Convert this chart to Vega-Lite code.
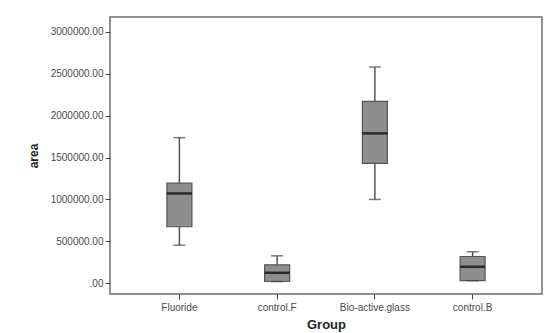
{
  "$schema": "https://vega.github.io/schema/vega-lite/v6.json",
  "autosize": {"type": "none"},
  "padding": {"left": 110, "top": 17, "right": 12, "bottom": 39},
  "width": 432,
  "height": 277,
  "background": "white",
  "config": {
    "view": {"stroke": "#6e6e6e", "strokeWidth": 1.5},
    "font": "Liberation Sans",
    "axis": {"labelFont": "Liberation Sans", "titleFont": "Liberation Sans", "labelColor": "#4a4a4a", "tickColor": "#444", "titleColor": "#222"}
  },
  "data": {
    "values": [
      {"group": "Fluoride", "min": 454000, "q1": 674000, "median": 1072000, "q3": 1195000, "max": 1738000},
      {"group": "control.F", "min": 20000, "q1": 20000, "median": 124000, "q3": 220000, "max": 327000},
      {"group": "Bio-active.glass", "min": 1000000, "q1": 1431000, "median": 1789000, "q3": 2172000, "max": 2582000},
      {"group": "control.B", "min": 30000, "q1": 30000, "median": 196000, "q3": 319000, "max": 375000}
    ]
  },
  "encoding": {
    "x": {
      "field": "group",
      "type": "nominal",
      "sort": ["Fluoride", "control.F", "Bio-active.glass", "control.B"],
      "scale": {"paddingInner": 0, "paddingOuter": 0.21},
      "axis": {"title": "Group", "titleFontSize": 13, "titleFontWeight": "bold", "titlePadding": 6, "labelAngle": 0, "labelFontSize": 10, "labelPadding": 3, "tickSize": 5, "domain": false, "grid": false}
    }
  },
  "layer": [
    {
      "mark": {"type": "rule", "color": "#555", "strokeWidth": 1.5},
      "encoding": {
        "y": {
          "field": "min", "type": "quantitative",
          "scale": {"domain": [-129000, 3179000], "nice": false, "zero": false},
          "axis": {"title": "area", "titleFontSize": 12, "titleFontWeight": "bold", "titlePadding": 10, "values": [0, 500000, 1000000, 1500000, 2000000, 2500000, 3000000], "labelExpr": "datum.value == 0 ? '.00' : format(datum.value, '.2f')", "labelFontSize": 10, "tickSize": 5, "domain": false, "grid": false}
        },
        "y2": {"field": "max"}
      }
    },
    {
      "mark": {"type": "bar", "size": 25, "fill": "#8e8e8e", "stroke": "#555", "strokeWidth": 1.2},
      "encoding": {"y": {"field": "q1", "type": "quantitative"}, "y2": {"field": "q3"}}
    },
    {
      "mark": {"type": "tick", "size": 25, "thickness": 2.5, "color": "#000"},
      "encoding": {"y": {"field": "median", "type": "quantitative"}}
    },
    {
      "mark": {"type": "tick", "size": 12, "thickness": 1.5, "color": "#444"},
      "encoding": {"y": {"field": "max", "type": "quantitative"}}
    },
    {
      "mark": {"type": "tick", "size": 12, "thickness": 1.5, "color": "#444"},
      "encoding": {"y": {"field": "min", "type": "quantitative"}}
    }
  ]
}
